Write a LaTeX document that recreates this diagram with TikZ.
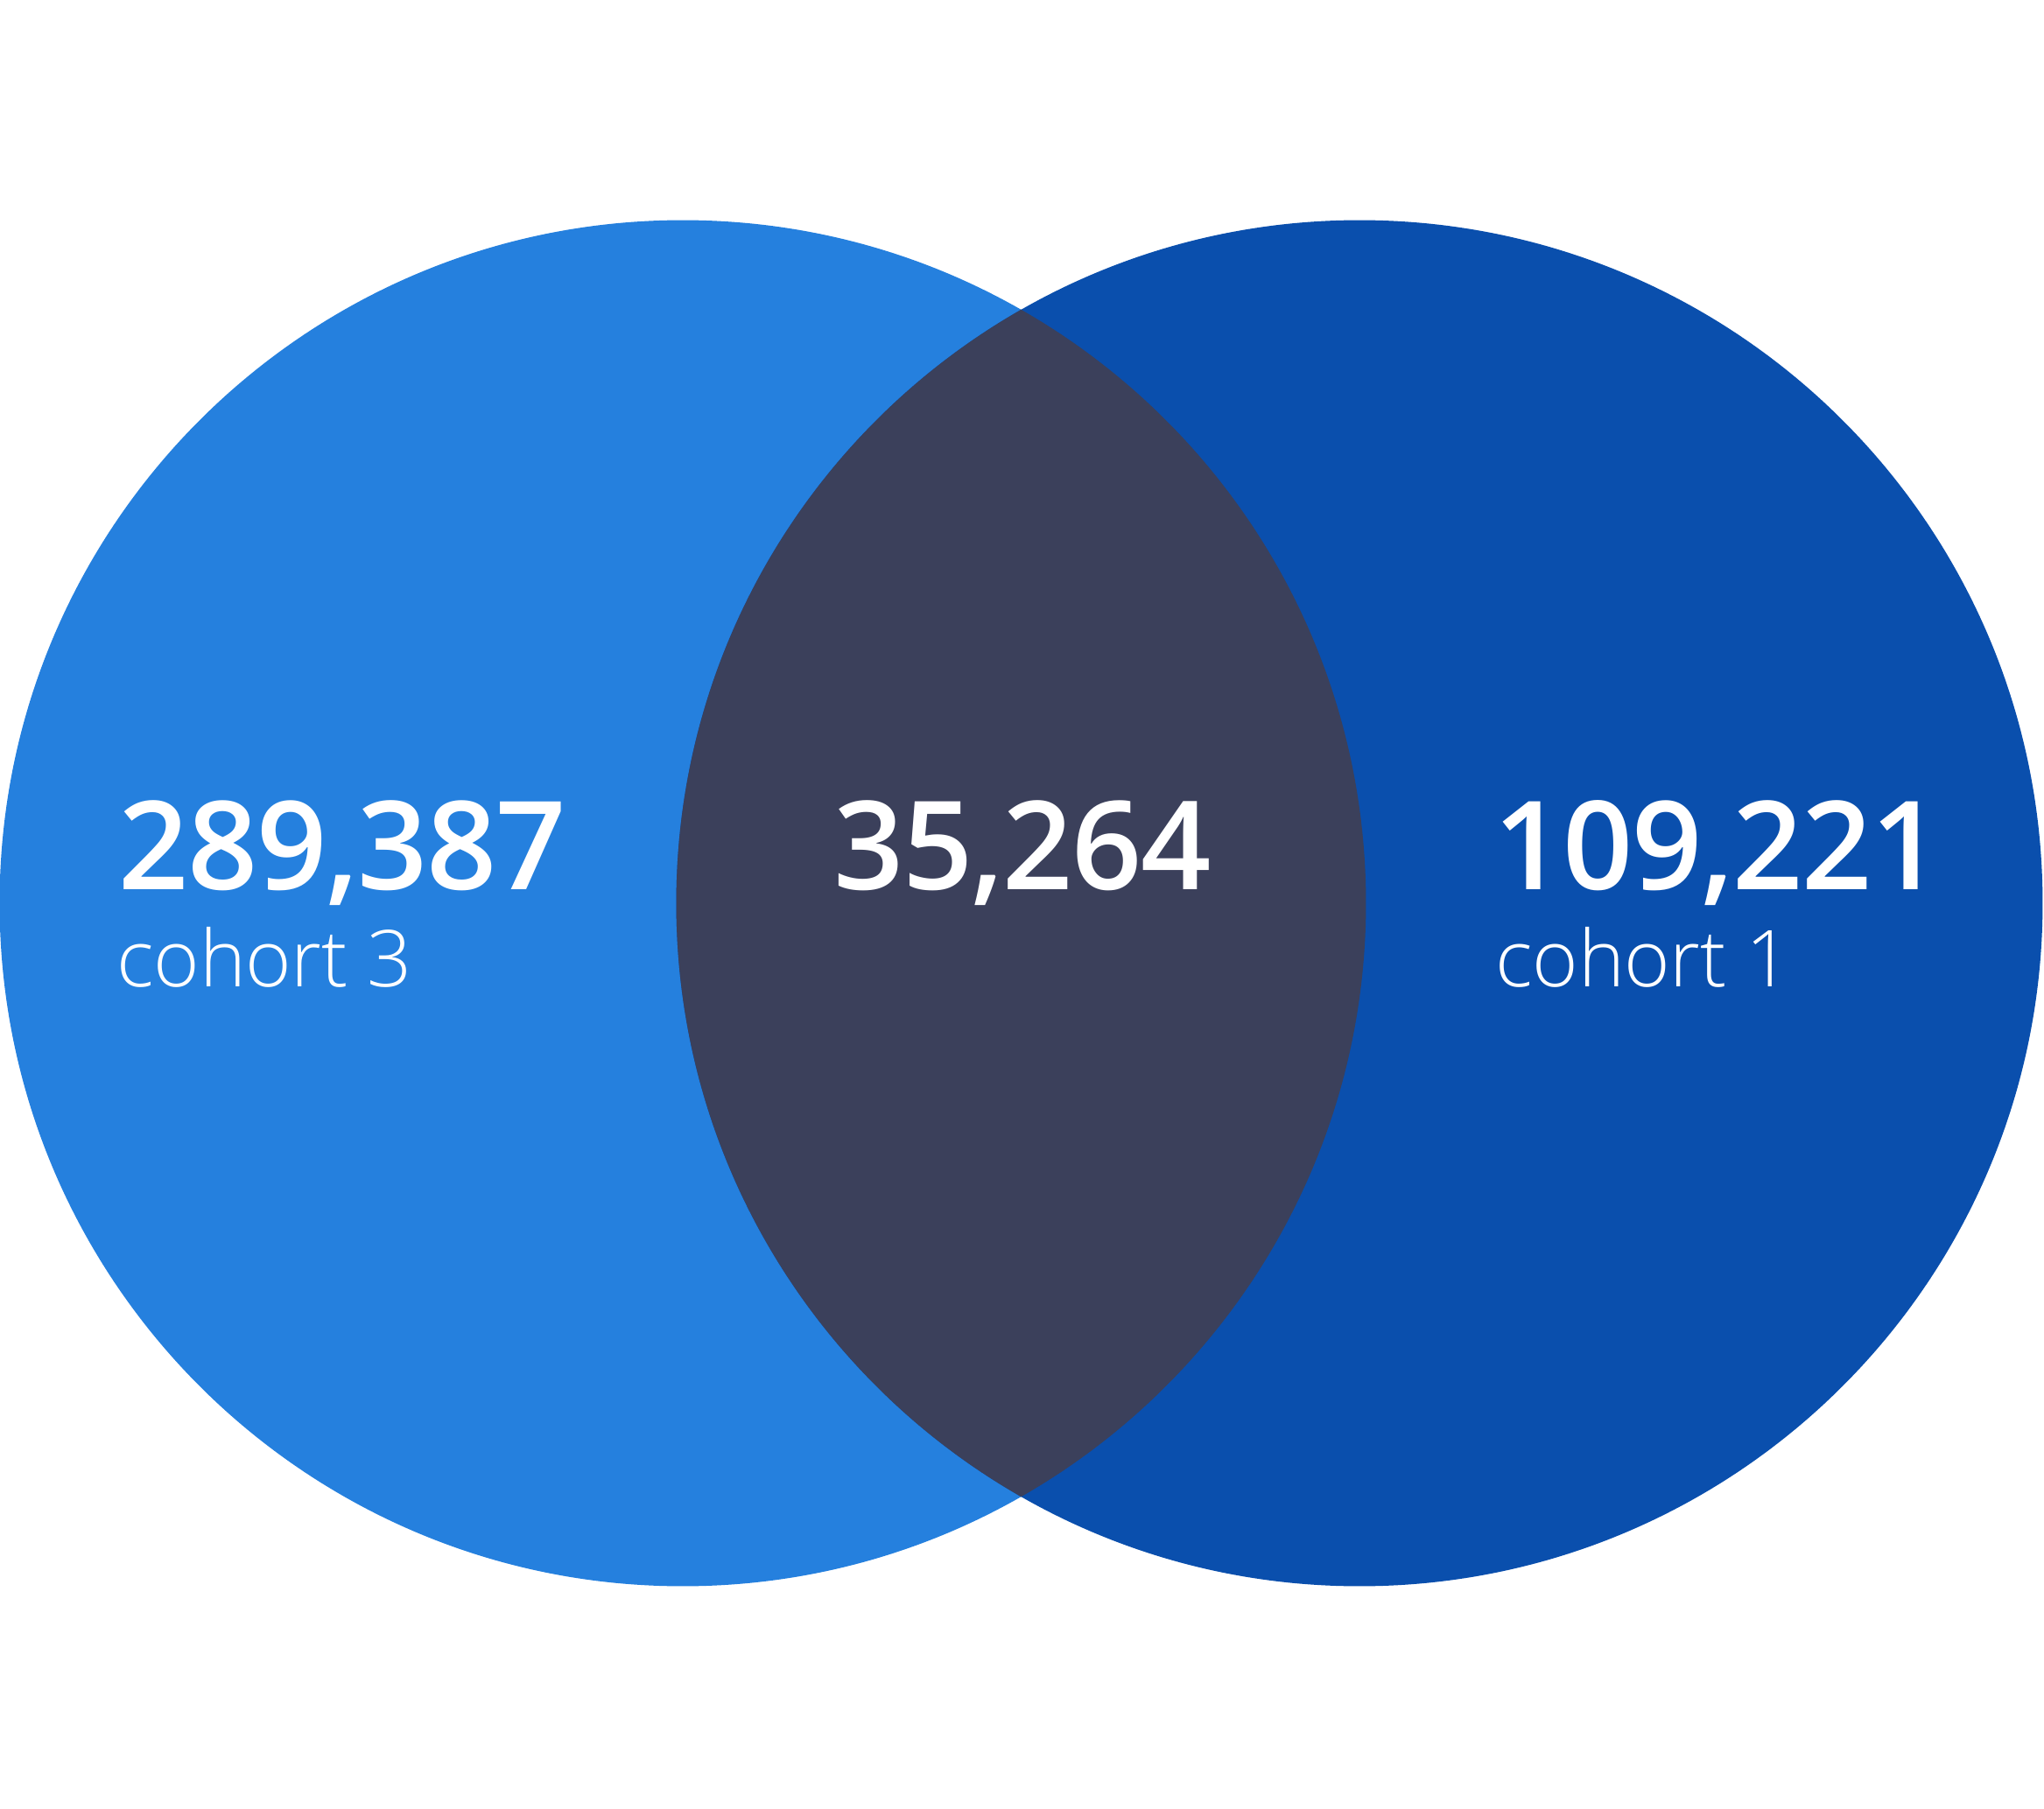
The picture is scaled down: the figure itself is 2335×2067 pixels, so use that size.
\documentclass[tikz,border=0pt]{standalone}
\usepackage{fontspec}
\setmainfont{Open Sans}
\newfontfamily\lightfont{Open Sans Light}[LetterSpace=-0.5]
\newfontfamily\countfont{Open Sans Semibold}[LetterSpace=-1]
\usetikzlibrary{positioning}
\definecolor{cohortthree}{RGB}{37,128,222}
\definecolor{cohortone}{RGB}{10,79,173}
\definecolor{overlap}{RGB}{59,64,91}

\begin{document}
\begin{tikzpicture}[x=0.01cm, y=-0.01cm,
  set/.style={circle, inner sep=0pt, minimum size=15.6cm},
  count/.style={text=white, inner sep=0pt, font=\countfont\fontsize{40}{48}\selectfont},
  cohortname/.style={text=white, inner sep=0pt, font=\lightfont\fontsize{25.5}{32}\selectfont}]
  \useasboundingbox (0,0) rectangle (2335,2067);
  \node (C3) [set, fill=cohortthree] at (780,1032) {};
  \node (C1) [set, fill=cohortone] at (1553,1032) {};
  \begin{scope}
    \clip (C3.center) circle [radius=7.8cm];
    \fill[overlap] (C1.center) circle [radius=7.8cm];
  \end{scope}
  \node (N3) [count, anchor=base west] at (135,1017) {289,387};
  \node (L3) [cohortname, anchor=base west] at (133,1127) {cohort 3};
  \node (N13) [count, anchor=base] at (1168,1017) {35,264};
  \node (N1) [count, anchor=base west] at (1706,1017) {109,221};
  \node (L1) [cohortname, anchor=base west] at (1708,1127) {cohort 1};
\end{tikzpicture}
\end{document}
